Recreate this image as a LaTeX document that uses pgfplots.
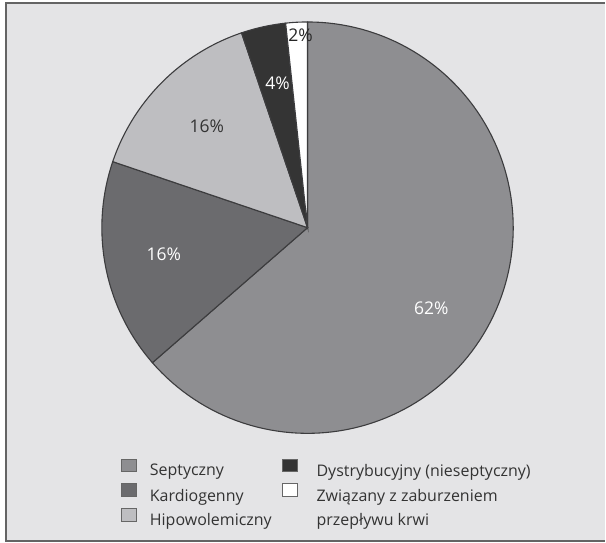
\documentclass[border=0pt]{standalone}
\usepackage{pgfplots}
\usepackage{pgfplotstable}
\pgfplotsset{compat=1.18}
\usepackage{fontspec}
\setmainfont{Open Sans}
\definecolor{sept}{RGB}{142,142,145}
\definecolor{kard}{RGB}{107,107,110}
\definecolor{hipo}{RGB}{190,190,193}
\definecolor{dystr}{RGB}{52,52,52}
\definecolor{bg}{RGB}{228,228,230}
\definecolor{edge}{RGB}{60,60,62}
\definecolor{frame}{RGB}{100,100,100}
% shares of the pie (percent, as drawn)
\pgfplotstableread{
share
63.6
16.6
14.6
3.5
1.7
}\piedata
\pgfplotstablegetelem{0}{share}\of\piedata\pgfmathsetmacro\sA{\pgfplotsretval}
\pgfplotstablegetelem{1}{share}\of\piedata\pgfmathsetmacro\sB{\pgfplotsretval}
\pgfplotstablegetelem{2}{share}\of\piedata\pgfmathsetmacro\sC{\pgfplotsretval}
\pgfplotstablegetelem{3}{share}\of\piedata\pgfmathsetmacro\sD{\pgfplotsretval}
\pgfplotstablegetelem{4}{share}\of\piedata\pgfmathsetmacro\sE{\pgfplotsretval}
\pgfmathsetmacro\aA{90-3.6*\sA}
\pgfmathsetmacro\aB{\aA-3.6*\sB}
\pgfmathsetmacro\aC{\aB-3.6*\sC}
\pgfmathsetmacro\aD{\aC-3.6*\sD}
\pgfmathsetmacro\aE{\aD-3.6*\sE}
\newcommand\lab{\fontsize{17.5}{20}\selectfont}
\begin{document}
\begin{tikzpicture}
\begin{axis}[
  x=1pt, y=1pt,
  xmin=-308, xmax=298, ymin=-315, ymax=228,
  hide axis, clip=false,
  legsq/.style={legend image code/.code={\draw[##1,draw=black!60,line width=0.9pt] (0pt,-1pt) rectangle (15pt,12pt);}},
  legend columns=2,
  legend cell align=left,
  legend style={draw=none, fill=none, at={(axis cs:-190,-229)}, anchor=north west,
    font=\fontsize{16}{19}\selectfont, text=black!80,
    row sep=3.5pt, column sep=0pt,
    nodes={inner xsep=6pt, inner ysep=2pt},
    /tikz/every odd column/.append style={column sep=7pt},
    /tikz/every even column/.append style={column sep=4pt}},
]
% background and frame
\fill[white] (axis cs:-308,-315) rectangle (axis cs:298,228);
\fill[bg] (axis cs:-302,-313.5) rectangle (axis cs:298,225);
\draw[frame, line width=1.8pt] (axis cs:298,225) -- (axis cs:-302,225) -- (axis cs:-302,-313.5) -- (axis cs:298,-313.5);
% slices
\addplot[forget plot, fill=sept, draw=edge, line width=1.1pt, domain=\aA:90, samples=120, variable=\t] ({206*cos(t)},{206*sin(t)}) -- (axis cs:0,0) -- cycle;
\addplot[forget plot, fill=kard, draw=edge, line width=1.1pt, domain=\aB:\aA, samples=60, variable=\t] ({206*cos(t)},{206*sin(t)}) -- (axis cs:0,0) -- cycle;
\addplot[forget plot, fill=hipo, draw=edge, line width=1.1pt, domain=\aC:\aB, samples=60, variable=\t] ({206*cos(t)},{206*sin(t)}) -- (axis cs:0,0) -- cycle;
\addplot[forget plot, fill=dystr, draw=edge, line width=1.1pt, domain=\aD:\aC, samples=20, variable=\t] ({206*cos(t)},{206*sin(t)}) -- (axis cs:0,0) -- cycle;
\addplot[forget plot, fill=white, draw=edge, line width=1.1pt, domain=\aE:\aD, samples=12, variable=\t] ({206*cos(t)},{206*sin(t)}) -- (axis cs:0,0) -- cycle;
% labels
\node[text=white, font=\lab] at (axis cs:124,-81) {62\%};
\node[text=white, font=\lab] at (axis cs:-144,-27) {16\%};
\node[text=black!80, font=\lab] at (axis cs:-101,102) {16\%};
\node[text=white, font=\lab] at (axis cs:-30,145) {4\%};
\node[text=black!85, font=\lab] at (axis cs:-7,193) {2\%};
% legend
\addlegendimage{legsq, fill=sept}
\addlegendentry{Septyczny}
\addlegendimage{legsq, fill=dystr}
\addlegendentry{\hspace*{6pt}Dystrybucyjny (nieseptyczny)}
\addlegendimage{legsq, fill=kard}
\addlegendentry{Kardiogenny}
\addlegendimage{legsq, fill=white}
\addlegendentry{\hspace*{6pt}Związany z zaburzeniem}
\addlegendimage{legsq, fill=hipo}
\addlegendentry{Hipowolemiczny}
\addlegendimage{empty legend}
\addlegendentry{\hspace*{6pt}przepływu krwi}
\end{axis}
\end{tikzpicture}
\end{document}
